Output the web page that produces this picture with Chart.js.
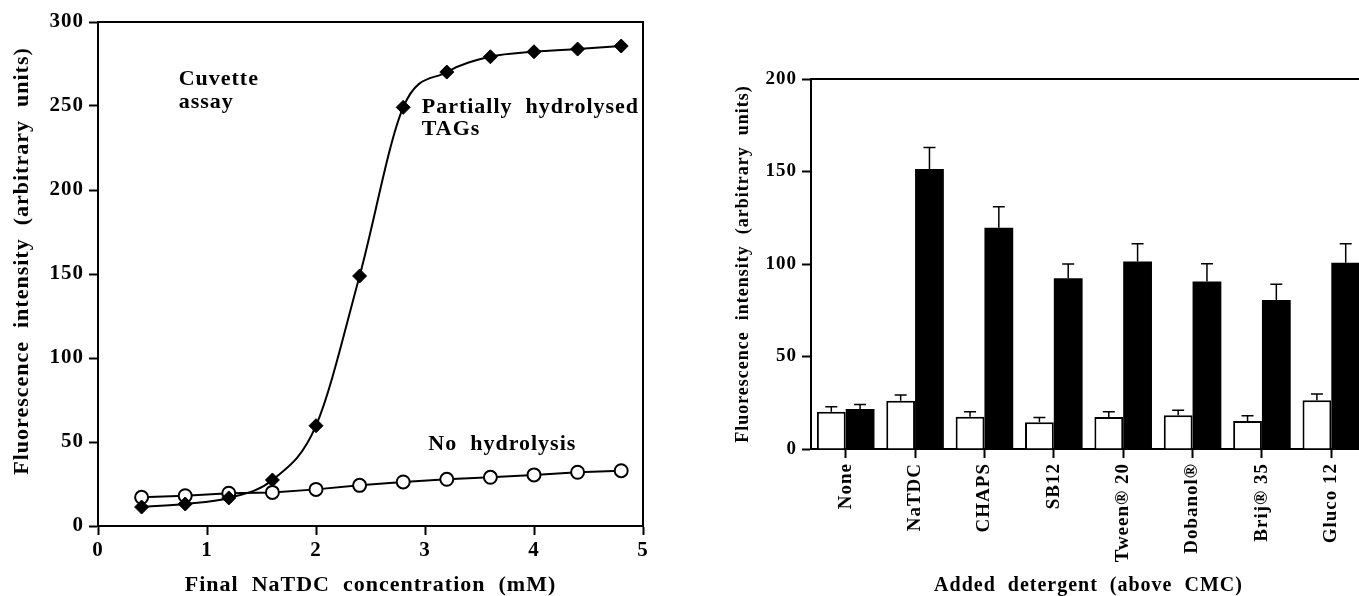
<!DOCTYPE html>
<html>
<head>
<meta charset="utf-8">
<script src="https://cdn.jsdelivr.net/npm/chart.js@4"></script>
<style>
  html, body { margin: 0; padding: 0; background: #fff; overflow: hidden; width: 1359px; height: 596px; }
  .panel { position: absolute; top: 0; height: 596px; }
  #leftBox { left: 0; width: 660px; }
  #rightBox { left: 700px; width: 680px; }
</style>
</head>
<body>
<div class="panel" id="leftBox"><canvas id="curveChart"></canvas></div>
<div class="panel" id="rightBox"><canvas id="barChart"></canvas></div>
<script>
// Left panel: cuvette assay vs NaTDC concentration
const concMM = [0.4, 0.8, 1.2, 1.6, 2.0, 2.4, 2.8, 3.2, 3.6, 4.0, 4.4, 4.8];
const partialTAG = [11.3, 13.1, 16.7, 27.4, 59.7, 148.8, 249.2, 270.2, 279.3, 282.3, 283.9, 285.7];
const noHydrolysis = [17.1, 18, 19.5, 20, 21.8, 24.2, 26.2, 27.8, 29, 30.4, 32, 32.9];
const leftYTicks = [0, 50, 100, 150, 200, 250, 300];

// Right panel: detergents
const detergents = ['None', 'NaTDC', 'CHAPS', 'SB12', 'Tween\u00AE 20', 'Dobanol\u00AE', 'Brij\u00AE 35', 'Gluco 12'];
const whiteVals = [20.2, 26.1, 17.5, 14.4, 17.3, 18.2, 15.1, 26.3];
const whiteErr = [2.7, 3.1, 2.7, 2.6, 2.9, 2.8, 2.9, 3.4];
const blackVals = [21.6, 151.4, 119.6, 92.3, 101.4, 90.6, 80.5, 100.7];
const blackErr = [2.4, 11.6, 11.4, 7.7, 9.6, 9.6, 8.5, 10.3];

const SERIF = "'Liberation Serif', 'Times New Roman', serif";
Chart.defaults.font.family = SERIF;
Chart.defaults.font.weight = 'bold';
Chart.defaults.color = '#000';
Chart.defaults.animation = false;

const spacing = {
    id: 'spacing',
    beforeDraw(chart) { chart.ctx.letterSpacing = '1px'; }
};

// top + right lines closing the plot box
const frame = {
    id: 'frame',
    afterDraw(chart) {
        const { ctx, chartArea: a } = chart;
        ctx.save();
        ctx.strokeStyle = '#000';
        ctx.lineWidth = 2;
        ctx.beginPath();
        ctx.moveTo(a.left, a.top);
        ctx.lineTo(a.right, a.top);
        ctx.lineTo(a.right, a.bottom);
        ctx.stroke();
        ctx.restore();
    }
};

// text labels inside the left plot, placed in data units
const curveNotes = [
    { x: 0.74, y: 266, text: 'Cuvette' },
    { x: 0.74, y: 252.4, text: 'assay' },
    { x: 2.97, y: 249.4, text: 'Partially  hydrolysed' },
    { x: 2.97, y: 236.3, text: 'TAGs' },
    { x: 3.03, y: 48.8, text: 'No  hydrolysis' }
];
const notes = {
    id: 'notes',
    afterDraw(chart) {
        const { ctx, scales } = chart;
        ctx.save();
        ctx.letterSpacing = '1px';
        ctx.font = 'bold 22px ' + SERIF;
        ctx.fillStyle = '#000';
        ctx.textBaseline = 'middle';
        ctx.textAlign = 'left';
        curveNotes.forEach(n => ctx.fillText(n.text, scales.x.getPixelForValue(n.x), scales.y.getPixelForValue(n.y)));
        ctx.restore();
    }
};

const axisGrid = { display: true, drawOnChartArea: false, drawTicks: true, tickLength: 9, tickWidth: 2, color: '#000' };
const axisBorder = { display: true, width: 2, color: '#000' };

new Chart(document.getElementById('curveChart'), {
    type: 'line',
    data: {
        datasets: [{
            label: 'Partially hydrolysed TAGs',
            data: concMM.map((c, i) => ({ x: c, y: partialTAG[i] })),
            borderColor: '#000',
            borderWidth: 2,
            cubicInterpolationMode: 'monotone',
            pointStyle: 'rectRot',
            pointRadius: 7,
            pointBackgroundColor: '#000',
            pointBorderColor: '#000',
            pointBorderWidth: 1
        }, {
            label: 'No hydrolysis',
            data: concMM.map((c, i) => ({ x: c, y: noHydrolysis[i] })),
            borderColor: '#000',
            borderWidth: 2,
            tension: 0,
            pointStyle: 'circle',
            pointRadius: 6.5,
            pointBackgroundColor: '#fff',
            pointBorderColor: '#000',
            pointBorderWidth: 2
        }]
    },
    options: {
        responsive: true,
        maintainAspectRatio: false,
        layout: { padding: { left: 0, right: 17, top: 22, bottom: 0 } },
        plugins: { legend: { display: false }, tooltip: { enabled: false } },
        scales: {
            x: {
                type: 'linear', min: 0, max: 5,
                ticks: { stepSize: 1, padding: 3, font: { size: 21 } },
                grid: axisGrid, border: axisBorder,
                title: { display: true, text: 'Final  NaTDC  concentration  (mM)', font: { size: 22, lineHeight: 1 }, padding: { top: 0, bottom: 0 } },
                afterFit: s => { s.height = 70; }
            },
            y: {
                min: 0, max: 300,
                afterBuildTicks: s => { s.ticks = leftYTicks.map(v => ({ value: v })); },
                ticks: { padding: 5, font: { size: 21 } },
                grid: axisGrid, border: axisBorder,
                title: { display: true, text: '    Fluorescence  intensity  (arbitrary  units)', font: { size: 22, lineHeight: 1 }, padding: { top: 11, bottom: 0 } },
                afterFit: s => { s.width = 98; }
            }
        }
    },
    plugins: [spacing, frame, notes]
});

// T-shaped error bars on top of each bar
const errorBars = {
    id: 'errorBars',
    afterDatasetsDraw(chart) {
        const { ctx, scales } = chart;
        [whiteErr, blackErr].forEach((errs, di) => {
            const vals = chart.data.datasets[di].data;
            chart.getDatasetMeta(di).data.forEach((bar, i) => {
                const top = scales.y.getPixelForValue(vals[i] + errs[i]);
                ctx.save();
                ctx.strokeStyle = '#000';
                ctx.lineWidth = 1.5;
                ctx.beginPath();
                ctx.moveTo(bar.x, bar.y);
                ctx.lineTo(bar.x, top);
                ctx.moveTo(bar.x - 6, top);
                ctx.lineTo(bar.x + 6, top);
                ctx.stroke();
                ctx.restore();
            });
        });
    }
};

new Chart(document.getElementById('barChart'), {
    type: 'bar',
    data: {
        labels: detergents,
        datasets: [{
            label: 'white',
            data: whiteVals,
            backgroundColor: '#fff',
            borderColor: '#000',
            borderWidth: 2,
            borderSkipped: 'bottom',
            categoryPercentage: 0.83,
            barPercentage: 1
        }, {
            label: 'black',
            data: blackVals,
            backgroundColor: '#000',
            borderColor: '#000',
            borderWidth: 0,
            categoryPercentage: 0.83,
            barPercentage: 1
        }]
    },
    options: {
        responsive: true,
        maintainAspectRatio: false,
        layout: { padding: { left: 0, right: 14, top: 79, bottom: 0 } },
        plugins: { legend: { display: false }, tooltip: { enabled: false } },
        scales: {
            x: {
                ticks: { minRotation: 90, maxRotation: 90, autoSkip: false, padding: 5, font: { size: 19 } },
                grid: Object.assign({}, axisGrid, { offset: false }),
                border: axisBorder,
                title: { display: true, text: 'Added  detergent  (above  CMC)', font: { size: 20, lineHeight: 1 }, padding: { top: 0, bottom: 0 } },
                afterFit: s => { s.height = 147; }
            },
            y: {
                min: 0, max: 200,
                ticks: { stepSize: 50, padding: 5, font: { size: 19 } },
                grid: axisGrid, border: axisBorder,
                title: { display: true, text: 'Fluorescence  intensity  (arbitrary  units)', font: { size: 18, lineHeight: 1 }, padding: { top: 34, bottom: 0 } },
                afterFit: s => { s.width = 111; }
            }
        }
    },
    plugins: [spacing, frame, errorBars]
});
</script>
</body>
</html>
